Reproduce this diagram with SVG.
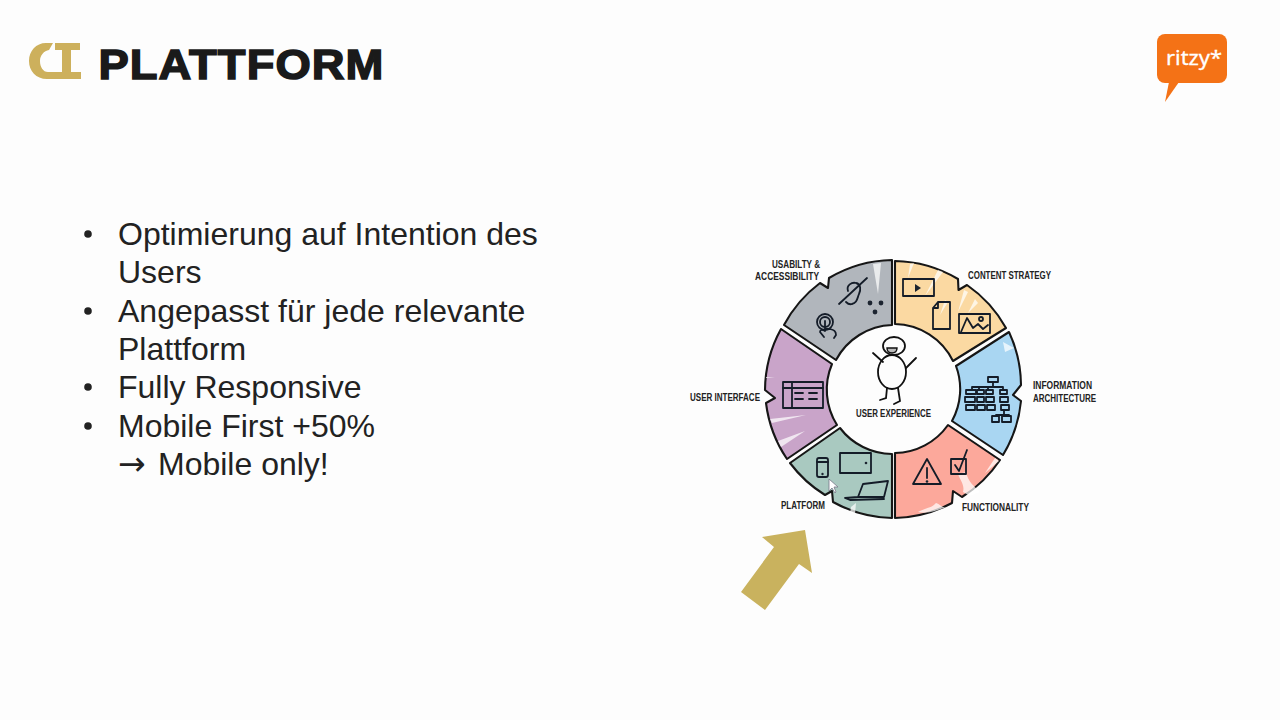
<svg xmlns="http://www.w3.org/2000/svg" width="1280" height="720" viewBox="0 0 1280 720">
<style>
.seg{stroke:#161616;stroke-width:2.100;stroke-linejoin:round}
.ic{fill:none;stroke:#141c28;stroke-width:1.800;stroke-linejoin:round;stroke-linecap:round}
.hl{fill:#fff;opacity:.72}
.lb{font-family:"Liberation Sans",Arial,sans-serif;font-weight:700;font-size:10.500px;fill:#222}
.body{font-family:"Liberation Sans",Arial,sans-serif;font-size:32px;fill:#222}
</style>
<rect width="1280" height="720" fill="#fdfdfd"/>
<g id="logo-ct" fill="#cdb05c">
<path d="M81,79H47C36,79 29,71 29,61C29,51 36,43 46,43L53,43L49,50C44,51 40,55 40,61C40,67 43,72 48,72H81Z"/>
<path d="M55,43H80V50H71V72H62V50H55Z"/>
</g>
<text id="title" x="98.500" y="79" font-family="Liberation Sans,Arial,sans-serif" font-weight="700" font-size="43" letter-spacing="1" fill="#1a1a1a" stroke="#1a1a1a" stroke-width="1.500" textLength="286" lengthAdjust="spacingAndGlyphs">PLATTFORM</text>
<g id="logo-ritzy">
<rect x="1157" y="34" width="70" height="49" rx="8" fill="#f47216"/>
<path d="M1169,82L1165,102L1179,82Z" fill="#f47216"/>
<text x="1166" y="65" font-family="Noto Sans,sans-serif" font-size="20" fill="#fff" stroke="#fff" stroke-width=".3" textLength="56" lengthAdjust="spacingAndGlyphs">ritzy*</text>
</g>
<g id="bullets" class="body">
<circle cx="88" cy="234" r="3.800" fill="#222"/><circle cx="88" cy="311" r="3.800" fill="#222"/><circle cx="88" cy="387" r="3.800" fill="#222"/><circle cx="88" cy="426" r="3.800" fill="#222"/>
<text class="body" x="118" y="245">Optimierung auf Intention des</text>
<text class="body" x="118" y="283">Users</text>
<text class="body" x="118" y="322">Angepasst für jede relevante</text>
<text class="body" x="118" y="360">Plattform</text>
<text class="body" x="118" y="398">Fully Responsive</text>
<text class="body" x="118" y="437">Mobile First +50%</text>
<text class="body" x="118" y="475"><tspan font-family="DejaVu Sans,sans-serif" font-size="33">→</tspan><tspan x="158">Mobile only!</tspan></text>
</g>
<g id="wheel">
<g id="content-strategy">
<path class="seg" fill="#fbd9a2" d="M895,261A128,128 0 0 1 958,279L958.500,290L967,285A128,128 0 0 1 1006,328L953,361A66,66 0 0 0 895,324Z"/>
<path class="hl" d="M910,264L914,263L908,278ZM938,270L943,272L925,296ZM964,290L968,292L958,312ZM975,299L978,303L968,313ZM945,300L948,302L940,315Z"/>
<rect class="ic" x="903" y="279" width="31" height="17"/><path d="M915,284L921,288L915,292Z" fill="#1c2430"/>
<path class="ic" d="M938,302H950V329H933V308ZM938,302V308H933"/>
<rect class="ic" x="959" y="314" width="31" height="19"/><path class="ic" d="M961,332L967,318L973,328L978,324L983,329L988,325"/><circle class="ic" cx="981" cy="319" r="2"/>
<text class="lb" x="968" y="279" textLength="83" lengthAdjust="spacingAndGlyphs">CONTENT STRATEGY</text>
</g>
<g id="information-architecture">
<path class="seg" fill="#a9d6f2" d="M1009,332A128,128 0 0 1 1021,385L1013,395L1021,401A128,128 0 0 1 1003,455L952,421A66,66 0 0 0 956,366Z"/>
<path class="hl" d="M1003,342L1014,348L1005,352Z"/>
<g class="ic"><rect x="988" y="377" width="10" height="5"/><path d="M993,382V387M972,387H1003M972,387V390M979,387V390M988,387V390M1003,387V390"/>
<rect x="966" y="390" width="10" height="4"/><rect x="977" y="390" width="7" height="4"/><rect x="986" y="390" width="7" height="4"/><rect x="1000" y="390" width="7" height="4"/>
<rect x="965" y="397" width="10" height="5"/><rect x="977" y="397" width="7" height="5"/><rect x="986" y="397" width="8" height="5"/><rect x="1000" y="397" width="8" height="5"/>
<rect x="966" y="405" width="9" height="5"/><rect x="977" y="405" width="8" height="5"/><rect x="987" y="405" width="8" height="5"/><rect x="1001" y="405" width="8" height="5"/>
<path d="M1004,410V415M996,415H1009"/><rect x="992" y="416" width="7" height="6"/><rect x="1002" y="416" width="9" height="6"/></g>
<text class="lb" x="1033" y="389" textLength="59" lengthAdjust="spacingAndGlyphs">INFORMATION</text>
<text class="lb" x="1033" y="402" textLength="63" lengthAdjust="spacingAndGlyphs">ARCHITECTURE</text>
</g>
<g id="functionality">
<path class="seg" fill="#fca89b" d="M1000,460A128,128 0 0 1 962,497L953,491L952,503A128,128 0 0 1 895,518V453A66,66 0 0 0 948,425Z"/>
<path class="hl" d="M995,458L999,461L985,473ZM958,474L966,472C968,482 975,487 980,492L970,496L963,492C965,485 960,480 958,474ZM918,512C925,508 932,508 936,503C940,504 942,508 946,507C936,511 928,514 918,512Z"/>
<path class="ic" d="M927,459L913,484H941Z"/><path class="ic" d="M927,468V478"/><circle cx="927" cy="481.500" r="1.300" fill="#1c2430"/>
<rect class="ic" x="951" y="459" width="15" height="15"/><path class="ic" d="M955,465L959,471L967,450"/>
<text class="lb" x="962" y="511" textLength="67" lengthAdjust="spacingAndGlyphs">FUNCTIONALITY</text>
</g>
<g id="platform">
<path class="seg" fill="#a9c9c0" d="M892,518A128,128 0 0 1 833,502L832,491L825,495A128,128 0 0 1 790,463L840,428A66,66 0 0 0 892,454Z"/>
<path class="hl" d="M851,507L856,503L855,514L850,513Z"/>
<rect class="ic" x="817" y="458" width="11" height="19" rx="2"/><path class="ic" d="M817,462H828"/><circle cx="822.500" cy="474" r="1.200" fill="#1c2430"/>
<rect class="ic" x="840" y="453" width="31" height="20"/><circle cx="866" cy="463" r="1.300" fill="#1c2430"/>
<path class="ic" d="M863,484L888,481L884,497L858,497ZM858,497L845,498L850,500L884,499"/>
<text class="lb" x="781" y="509" textLength="44" lengthAdjust="spacingAndGlyphs">PLATFORM</text>
</g>
<g id="user-interface">
<path class="seg" fill="#c9a4c9" d="M787,459A128,128 0 0 1 766,403L775,398L765,390A128,128 0 0 1 781,329L832,364A66,66 0 0 0 837,425Z"/>
<path class="hl" d="M770,419L806,415L772,423ZM778,441L805,431L781,447ZM766,377L775,377L766,378Z"/>
<g class="ic"><rect x="783" y="382" width="40" height="26"/><path d="M783,388H823M792,382V408M795,393H803M795,399H803M809,393H817M809,399H817"/></g>
<text class="lb" x="690" y="401" textLength="70" lengthAdjust="spacingAndGlyphs">USER INTERFACE</text>
</g>
<g id="usability-accessibility">
<path class="seg" fill="#b1b6bc" d="M784,325A128,128 0 0 1 820,283L828,288L829,278A128,128 0 0 1 892,260V325A66,66 0 0 0 836,360Z"/>
<path class="hl" d="M873,264L881,263L878,294Z"/>
<path class="ic" d="M839,304L867,278"/><path class="ic" stroke-width="2" d="M848,291C846,285 852,282 856,283C861,284 861,290 859,294C857,299 857,303 852,304C849,305 847,303 846,302"/>
<circle cx="870" cy="303" r="2.400" fill="#1c2430"/><circle cx="881" cy="303" r="2.400" fill="#1c2430"/><circle cx="875" cy="312" r="2.400" fill="#1c2430"/>
<circle class="ic" cx="825" cy="322" r="8"/><circle class="ic" cx="825" cy="322" r="5"/>
<path class="ic" d="M825,331V321M825,331C822,329 820,330 820,332L824,337M825,329H830C834,330 836,331 836,335L834,338"/>
<text class="lb" x="772" y="268" textLength="48" lengthAdjust="spacingAndGlyphs">USABILTY &amp;</text>
<text class="lb" x="755" y="280" textLength="64" lengthAdjust="spacingAndGlyphs">ACCESSIBILITY</text>
</g>
<g id="user-experience">
<g fill="none" stroke="#111" stroke-width="1.800" stroke-linecap="round">
<ellipse cx="894" cy="346" rx="11" ry="9"/><ellipse cx="892" cy="372" rx="14" ry="17"/>
<path d="M873,353L883,362M916,358L906,368M887,388L886,398L880,400M898,388L900,401L894,404"/>
</g>
<path d="M887,348H897C897,351 895,353 892,353C889,353 887,351 887,348Z" fill="#bbb" stroke="#111" stroke-width="1.400"/>
<text class="lb" x="856" y="417" textLength="75" lengthAdjust="spacingAndGlyphs">USER EXPERIENCE</text>
</g>
<path id="cursor" d="M829,479V491L832,488L835,493L836,492L834,487H838Z" fill="#fff" stroke="#778" stroke-width=".8"/>
</g>
<g id="connectors">
<path id="arrow" d="M762,537L805,530L812,573L799,564L765,610L741,592L774,547Z" fill="#c9b25e"/>
</g>
</svg>
